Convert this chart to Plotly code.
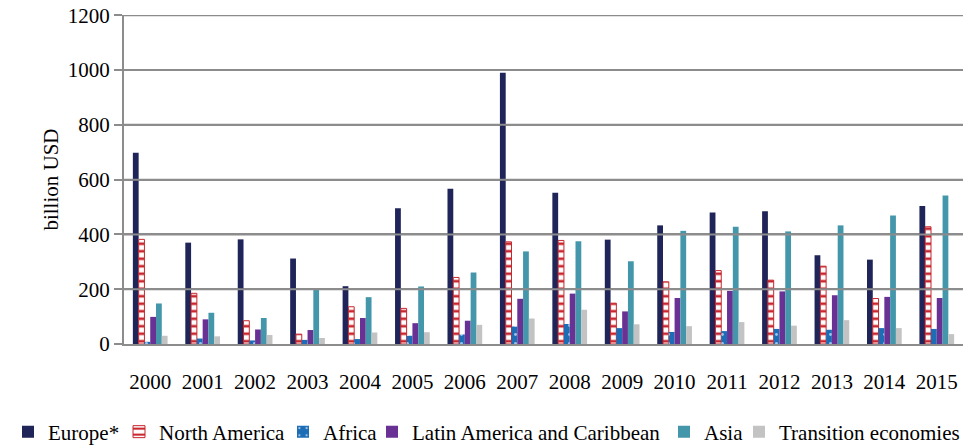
import plotly.graph_objects as go

years = ["2000", "2001", "2002", "2003", "2004", "2005", "2006", "2007",
         "2008", "2009", "2010", "2011", "2012", "2013", "2014", "2015"]
europe = [698, 370, 382, 312, 211, 496, 567, 990, 552, 381, 433, 480, 485, 324, 308, 504]
north_america = [382, 185, 85, 36, 136, 130, 243, 373, 378, 149, 227, 268, 233, 284, 166, 428]
africa = [8, 20, 13, 15, 18, 30, 35, 64, 73, 58, 44, 47, 55, 52, 58, 55]
latin_america = [99, 90, 53, 51, 95, 76, 85, 165, 184, 119, 168, 194, 192, 178, 172, 168]
asia = [148, 114, 95, 197, 171, 210, 261, 338, 375, 302, 413, 428, 411, 433, 469, 542]
transition = [30, 28, 33, 22, 42, 43, 70, 93, 125, 72, 65, 80, 67, 87, 58, 36]

series_names = ["Europe*", "North America", "Africa", "Latin America and Caribbean",
                "Asia", "Transition economies"]
y_ticks = [0, 200, 400, 600, 800, 1000, 1200]

FONT = "Liberation Serif"
W, H = 965, 445
GRID = "#8C8C8C"

fig = go.Figure()
fig.add_trace(go.Bar(name=series_names[0], x=years, y=europe, legend="legend",
                     marker=dict(color="#1F2459", line=dict(width=0))))
fig.add_trace(go.Bar(name=series_names[1], x=years, y=north_america, legend="legend2",
                     marker=dict(color="white", line=dict(color="#C8272E", width=1),
                                 pattern=dict(shape="-", fgcolor="#C8272E", bgcolor="white",
                                              size=7.5, solidity=0.35, fillmode="replace"))))
fig.add_trace(go.Bar(name=series_names[2], x=years, y=africa, legend="legend3",
                     marker=dict(color="#1D6CB6", line=dict(width=0),
                                 pattern=dict(shape=".", fgcolor="#9CC3E8", bgcolor="#1D6CB6",
                                              size=9, solidity=0.08, fillmode="replace"))))
fig.add_trace(go.Bar(name=series_names[3], x=years, y=latin_america, legend="legend4",
                     marker=dict(color="#6A3194", line=dict(width=0))))
fig.add_trace(go.Bar(name=series_names[4], x=years, y=asia, legend="legend5",
                     marker=dict(color="#4497AB", line=dict(width=0))))
fig.add_trace(go.Bar(name=series_names[5], x=years, y=transition, legend="legend6",
                     marker=dict(color="#C3C3C3", line=dict(width=0))))

# text start positions of legend entries (px in the container)
legend_text_x = [48, 159, 323, 412, 704, 779]
legend_y_px = 432


def legend_cfg(text_x):
    return dict(orientation="h", xref="container", yref="container",
                x=(text_x - 40) / W, xanchor="left",
                y=1 - legend_y_px / H, yanchor="middle",
                font=dict(size=21, family=FONT, color="black"),
                itemwidth=30, bgcolor="rgba(0,0,0,0)", borderwidth=0)


# horizontal gridlines placed on the y scale at the tick values
grid_shapes = [dict(type="line", xref="paper", yref="y", x0=0, x1=1, y0=v, y1=v,
                    line=dict(color=GRID, width=2), layer="above")
               for v in y_ticks[1:]]

fig.update_layout(
    template="none",
    width=W, height=H,
    margin=dict(l=124, r=2, t=15, b=101),
    paper_bgcolor="white", plot_bgcolor="rgba(0,0,0,0)",
    barmode="group", bargap=0.338, bargroupgap=0,
    font=dict(family=FONT, size=21, color="black"),
    showlegend=True,
    legend=legend_cfg(legend_text_x[0]),
    legend2=legend_cfg(legend_text_x[1]),
    legend3=legend_cfg(legend_text_x[2]),
    legend4=legend_cfg(legend_text_x[3]),
    legend5=legend_cfg(legend_text_x[4]),
    legend6=legend_cfg(legend_text_x[5]),
    shapes=grid_shapes,
    xaxis=dict(tickmode="array", tickvals=years, showgrid=False, showline=True,
               linecolor=GRID, linewidth=2, ticks="",
               tickfont=dict(size=21, family=FONT), ticklabelstandoff=18),
    yaxis=dict(range=[0, 1201], tickmode="array", tickvals=y_ticks,
               ticksuffix="\u00a0",
               showgrid=True, gridcolor=GRID, gridwidth=2,
               showline=True, linecolor=GRID, linewidth=2,
               ticks="outside", ticklen=8, tickcolor=GRID, tickwidth=2,
               tickfont=dict(size=21, family=FONT), zeroline=False,
               title=dict(text="billion USD", font=dict(size=21, family=FONT), standoff=3)),
)

fig.write_html("out.html", config={"displayModeBar": False},
               post_script="document.body.style.margin='0';")
